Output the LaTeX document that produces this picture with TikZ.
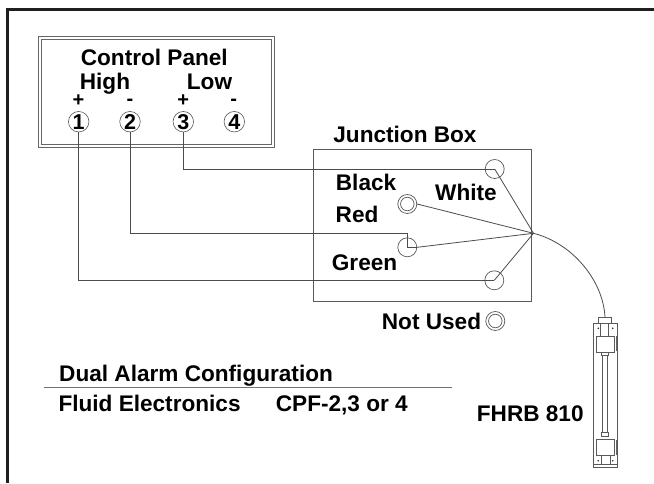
\documentclass[tikz,border=0pt]{standalone}
\usepackage{fontspec}
\setmainfont{Liberation Sans}
\tikzset{
  x=1pt,y=-1pt,
  lbl/.style={inner sep=0pt,anchor=base,font=\fontsize{22.6}{24}\selectfont\bfseries,text=black},
  lbw/.style={lbl,anchor=base west},
  sgn/.style={inner sep=0pt,anchor=base,font=\fontsize{20}{22}\selectfont\bfseries,text=black},
  term/.style={circle,draw=black!65,line width=0.6pt,minimum size=20.5pt,inner sep=0pt,font=\fontsize{21.5}{22}\selectfont\bfseries},
  post/.style={circle,draw=black!65,line width=0.7pt,minimum size=19pt,inner sep=0pt},
  ring/.style={circle,draw=black!65,line width=0.7pt,minimum size=13.5pt,inner sep=0pt},
  wire/.style={draw=black!70,line width=0.8pt},
  part/.style={draw=black!65,line width=0.7pt,fill=white},
}
\begin{document}
\begin{tikzpicture}
\useasboundingbox (0,0) rectangle (654,483);
\fill[white] (0,0) rectangle (654,483);
% frame
\draw[black!88,line width=2.6pt] (7.5,483) -- (7.5,9.6) -- (654,9.6);
% control panel
\node[draw=black!60,line width=0.8pt,minimum width=235.5pt,minimum height=111.5pt,inner sep=0pt] (panelouter) at (156.3,91.8) {};
\node[draw=black!60,line width=0.8pt,minimum width=230pt,minimum height=105pt,inner sep=0pt] (panel) at (156.5,91.5) {};
\node[lbl] (cp) at (154.3,65) {Control Panel};
\node[lbl] (hi) at (105,89) {High};
\node[lbl] (lo) at (209.5,89) {Low};
\node[sgn] (p1) at (78.5,106.5) {+};
\node[sgn] (m2) at (130,105.5) {-};
\node[sgn] (p3) at (183.3,106.5) {+};
\node[sgn] (m4) at (233.7,105.5) {-};
\node[term] (t1) at (78.7,121.7) {1};
\node[term] (t2) at (130,121.7) {2};
\node[term] (t3) at (183.3,121.7) {3};
\node[term] (t4) at (234.3,121.7) {4};
% junction box
\node[draw=black!65,line width=0.8pt,minimum width=218.4pt,minimum height=151.7pt,inner sep=0pt] (jb) at (422.5,225.2) {};
\node[lbl] at (405,142) {Junction Box};
\node[post] (w) at (494.7,169) {};
\node[post] (black) at (407.3,204) {};
\node[ring] at (black) {};
\node[post] (r) at (407.3,247.3) {};
\node[post] (g) at (494.3,280.3) {};
\node[lbl,anchor=base west] at (335.7,190) {Black};
\node[lbw] at (435,200) {White};
\node[lbw] at (335.5,222.7) {Red};
\node[lbw] at (331.7,270.7) {Green};
\node[lbw] at (381.7,329.3) {Not Used};
\node[post] (nu) at (495.3,321) {};
\node[ring] at (nu) {};
\coordinate (hub) at (533.5,233.3);
% wires
\draw[wire] (t3) -- (183.3,169) -- (w.center);
\draw[wire] (t2) -- (130,233) -- (407.3,233) -- (r.center);
\draw[wire] (t1) -- (78.7,280.3) -- (g.center);
\draw[wire] (w.center) -- (hub);
\draw[wire] (black.east) -- (hub);
\draw[wire] (r.east) -- (hub);
\draw[wire] (g.center) -- (hub);
\draw[wire] (r.center) -- (r.east);
% cable
\coordinate (top) at (605,317);
\draw[wire] (hub) .. controls (572,243) and (603,280) .. (top);
% titles
\node[lbw] at (59,381.7) {Dual Alarm Configuration};
\draw[black!55,line width=1pt] (44,387.8) -- (451.7,387.8);
\node[lbw] at (58.3,411.7) {Fluid Electronics};
\node[lbw] at (275.7,411.7) {CPF-2,3 or 4};
\node[lbw] at (476.7,421.7) {FHRB 810};
% sensor
\draw[part] (598.7,317) rectangle (611.3,323.3);
\draw[part] (593.3,323.3) rectangle (617,467);
\draw[draw=black!65,line width=0.6pt] (593.3,464) -- (617,464);
\draw[part] (600.7,323.3) rectangle (608,336);
\draw[part] (596.7,336) rectangle (614,352.3);
\draw[part] (601.5,352.3) rectangle (608,355);
\draw[part] (602.3,355) rectangle (607.3,432);
\draw[part] (601.5,432) rectangle (608,436);
\draw[part] (596.7,439.3) rectangle (614,455.7);
\draw[part] (601,455.7) rectangle (610,464);
\draw[black!60,line width=1pt] (616,336) -- (616,351);
\draw[black!60,line width=1pt] (616,440) -- (616,455);
\foreach \px/\py in {598.3/328.3,612.7/328.3,598.3/460.7,612.7/460.7}
  \fill[black!80] (\px,\py) circle (0.9pt);
\end{tikzpicture}
\end{document}
